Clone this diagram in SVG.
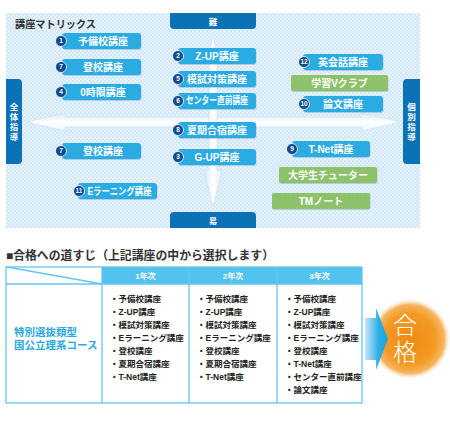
<svg xmlns="http://www.w3.org/2000/svg" width="450" height="421" viewBox="0 0 450 421">
<defs>
<pattern id="chk" width="4" height="4" patternUnits="userSpaceOnUse">
<rect width="4" height="4" fill="#e5f2fb"/>
<rect width="2" height="2" fill="#d4e9f7"/>
<rect x="2" y="2" width="2" height="2" fill="#d4e9f7"/>
</pattern>
<linearGradient id="harr" x1="0" y1="0" x2="0" y2="1">
<stop offset="0" stop-color="#d6eaf7"/>
<stop offset="0.5" stop-color="#ffffff"/>
<stop offset="1" stop-color="#eef6fc"/>
</linearGradient>
<linearGradient id="varr" x1="0" y1="0" x2="1" y2="0">
<stop offset="0" stop-color="#d6eaf7"/>
<stop offset="0.5" stop-color="#ffffff"/>
<stop offset="1" stop-color="#e3f0fa"/>
</linearGradient>
<linearGradient id="barr" x1="0" y1="0" x2="1" y2="0">
<stop offset="0" stop-color="#c4e7f8"/>
<stop offset="0.6" stop-color="#2aaee4"/>
<stop offset="1" stop-color="#1aa3df"/>
</linearGradient>
<radialGradient id="org" cx="0.5" cy="0.5" r="0.5">
<stop offset="0" stop-color="#f08a10"/>
<stop offset="0.62" stop-color="#f39a25"/>
<stop offset="0.84" stop-color="#f6b560"/>
<stop offset="1" stop-color="#ffffff" stop-opacity="0"/>
</radialGradient>
<filter id="sh" x="-10%" y="-20%" width="120%" height="150%">
<feDropShadow dx="0.5" dy="1" stdDeviation="0.6" flood-color="#5a8fb5" flood-opacity="0.35"/>
</filter>
</defs>
<style>
text{font-family:"Liberation Sans","Noto Sans CJK JP",sans-serif}
.pill{fill:#29abe2;filter:url(#sh)}
.grn{fill:#8dc26b;filter:url(#sh)}
.num{fill:#0e4b8f;stroke:#ffffff;stroke-width:0.8}
.nt{fill:#fff;font-size:6.5px;font-weight:bold;text-anchor:middle}
.pt{fill:#fff;font-size:10px;font-weight:bold;text-anchor:middle}
.tab{fill:#0b72b5}
.tt{fill:#fff;font-size:8.5px;font-weight:bold;text-anchor:middle}
.li{fill:#222;font-size:8.5px;font-weight:bold}
.hd{fill:#fff;font-size:8px;font-weight:bold;text-anchor:middle}
.tl{fill:none;stroke:#63c6ee;stroke-width:1.3}
</style>

<rect x="6" y="13" width="414" height="215" fill="url(#chk)"/>
<text x="15" y="28" font-size="10.5" font-weight="bold" fill="#333" textLength="81" lengthAdjust="spacingAndGlyphs">講座マトリックス</text>

<g id="tab-top"><path class="tab" d="M170,13 H256 V25 Q256,29 252,29 H174 Q170,29 170,25 Z"/><text class="tt" x="213" y="24.5">難</text></g>
<g id="tab-bottom"><path class="tab" d="M170,228 V216 Q170,212 174,212 H252 Q256,212 256,216 V228 Z"/><text class="tt" x="213" y="223.5">易</text></g>
<g id="tab-left"><path class="tab" d="M6,79 H18 Q22,79 22,83 V160 Q22,164 18,164 H6 Z"/>
<text class="tt" x="14" y="110">全</text><text class="tt" x="14" y="120">体</text><text class="tt" x="14" y="130">指</text><text class="tt" x="14" y="140">導</text></g>
<g id="tab-right"><path class="tab" d="M420,79 H407 Q403,79 403,83 V160 Q403,164 407,164 H420 Z"/>
<text class="tt" x="411.5" y="110">個</text><text class="tt" x="411.5" y="120">別</text><text class="tt" x="411.5" y="130">指</text><text class="tt" x="411.5" y="140">導</text></g>

<g id="connectors">
<path d="M27,122 L65,113 L65,117 L362,117 L362,113 L400,122 L362,131 L362,127 L65,127 L65,131 Z" fill="url(#harr)" stroke="#c3def0" stroke-width="0.5"/>
<path d="M213,35 L217,55 L217,170 L222,170 L213,207 L204,170 L209,170 L209,55 Z" fill="url(#varr)" stroke="#c3def0" stroke-width="0.5"/>
</g>

<g id="n1"><rect class="pill" x="62" y="33" width="79" height="16" rx="3"/><circle class="num" cx="61" cy="41" r="5.5"/><text class="nt" x="61" y="43.3">1</text><text class="pt" x="103" y="44.6">予備校講座</text></g>
<g id="n7a"><rect class="pill" x="62" y="59" width="79" height="16" rx="3"/><circle class="num" cx="61" cy="67" r="5.5"/><text class="nt" x="61" y="69.3">7</text><text class="pt" x="103" y="70.6">登校講座</text></g>
<g id="n4"><rect class="pill" x="62" y="84" width="79" height="16" rx="3"/><circle class="num" cx="61" cy="92" r="5.5"/><text class="nt" x="61" y="94.3">4</text><text class="pt" x="103" y="95.6">0時限講座</text></g>
<g id="n7b"><rect class="pill" x="62" y="143" width="79" height="16" rx="3"/><circle class="num" cx="61" cy="151" r="5.5"/><text class="nt" x="61" y="153.3">7</text><text class="pt" x="103" y="154.6">登校講座</text></g>
<g id="n11"><rect class="pill" x="78" y="183" width="79" height="16" rx="3"/><circle class="num" cx="79" cy="191" r="5.5"/><text class="nt" x="79" y="193.3">11</text><text class="pt" x="119.5" y="194.6" textLength="64" lengthAdjust="spacingAndGlyphs">Eラーニング講座</text></g>

<g id="n2"><rect class="pill" x="178" y="48" width="78" height="16" rx="3"/><circle class="num" cx="178" cy="56" r="5.5"/><text class="nt" x="178" y="58.3">2</text><text class="pt" x="217" y="59.6">Z-UP講座</text></g>
<g id="n5"><rect class="pill" x="178" y="71" width="78" height="16" rx="3"/><circle class="num" cx="178" cy="79" r="5.5"/><text class="nt" x="178" y="81.3">5</text><text class="pt" x="217" y="82.6">模試対策講座</text></g>
<g id="n6"><rect class="pill" x="178" y="93" width="78" height="16" rx="3"/><circle class="num" cx="178" cy="101" r="5.5"/><text class="nt" x="178" y="103.3">6</text><text class="pt" x="217" y="104.3" font-size="8" textLength="62" lengthAdjust="spacingAndGlyphs">センター直前講座</text></g>
<g id="n8"><rect class="pill" x="178" y="122" width="78" height="16" rx="3"/><circle class="num" cx="178" cy="130" r="5.5"/><text class="nt" x="178" y="132.3">8</text><text class="pt" x="217" y="133.6">夏期合宿講座</text></g>
<g id="n3"><rect class="pill" x="178" y="149" width="78" height="16" rx="3"/><circle class="num" cx="178" cy="157" r="5.5"/><text class="nt" x="178" y="159.3">3</text><text class="pt" x="217" y="160.6">G-UP講座</text></g>

<g id="n12"><rect class="pill" x="303" y="54" width="80" height="16" rx="3"/><circle class="num" cx="304" cy="62" r="5.5"/><text class="nt" x="304" y="64.3">12</text><text class="pt" x="343" y="65.6">英会話講座</text></g>
<g id="gV"><rect class="grn" x="291" y="75" width="97" height="16" rx="2"/><text class="pt" x="339.5" y="86.6">学習Vクラブ</text></g>
<g id="n10"><rect class="pill" x="303" y="96" width="80" height="16" rx="3"/><circle class="num" cx="304" cy="104" r="5.5"/><text class="nt" x="304" y="106.3">10</text><text class="pt" x="343" y="107.6">論文講座</text></g>
<g id="n9"><rect class="pill" x="292" y="141" width="78" height="16" rx="3"/><circle class="num" cx="292" cy="149" r="5.5"/><text class="nt" x="292" y="151.3">9</text><text class="pt" x="331" y="152.6">T-Net講座</text></g>
<g id="gT"><rect class="grn" x="279" y="167" width="98" height="16" rx="2"/><text class="pt" x="328" y="178.6">大学生チューター</text></g>
<g id="gTM"><rect class="grn" x="272" y="193" width="98" height="16" rx="2"/><text class="pt" x="321" y="204.6">TMノート</text></g>

<text x="6" y="260" font-size="12" font-weight="bold" fill="#333" textLength="268" lengthAdjust="spacingAndGlyphs">■合格への道すじ（上記講座の中から選択します）</text>

<g id="table">
<rect x="102" y="267" width="260" height="17" fill="#52c2ee"/>
<rect class="tl" x="6" y="267" width="356" height="136"/>
<line class="tl" x1="6" y1="284" x2="362" y2="284"/>
<line class="tl" x1="102" y1="267" x2="102" y2="403"/>
<line class="tl" x1="189" y1="267" x2="189" y2="403"/>
<line class="tl" x1="277" y1="267" x2="277" y2="403"/>
<line class="tl" x1="7" y1="267" x2="102" y2="284"/>
<text class="hd" x="145.5" y="278.5">1年次</text>
<text class="hd" x="233" y="278.5">2年次</text>
<text class="hd" x="319.5" y="278.5">3年次</text>
<text x="14" y="336" font-size="10.5" font-weight="bold" fill="#2aa8e0">特別選抜類型</text>
<text x="14" y="349" font-size="10.5" font-weight="bold" fill="#2aa8e0">国公立理系コース</text>
<text class="li" x="110" y="302">・予備校講座</text>
<text class="li" x="110" y="315">・Z-UP講座</text>
<text class="li" x="110" y="328">・模試対策講座</text>
<text class="li" x="110" y="341">・Eラーニング講座</text>
<text class="li" x="110" y="354">・登校講座</text>
<text class="li" x="110" y="367">・夏期合宿講座</text>
<text class="li" x="110" y="380">・T-Net講座</text>
<text class="li" x="197" y="302">・予備校講座</text>
<text class="li" x="197" y="315">・Z-UP講座</text>
<text class="li" x="197" y="328">・模試対策講座</text>
<text class="li" x="197" y="341">・Eラーニング講座</text>
<text class="li" x="197" y="354">・登校講座</text>
<text class="li" x="197" y="367">・夏期合宿講座</text>
<text class="li" x="197" y="380">・T-Net講座</text>
<text class="li" x="285" y="302">・予備校講座</text>
<text class="li" x="285" y="315">・Z-UP講座</text>
<text class="li" x="285" y="328">・模試対策講座</text>
<text class="li" x="285" y="341">・Eラーニング講座</text>
<text class="li" x="285" y="354">・登校講座</text>
<text class="li" x="285" y="367">・T-Net講座</text>
<text class="li" x="285" y="380">・センター直前講座</text>
<text class="li" x="285" y="393">・論文講座</text>
</g>

<g id="goal">
<circle cx="410" cy="339" r="41" fill="url(#org)"/>
<path d="M365,318 H376 V308 L388,339 L376,370 V360 H365 Z" fill="url(#barr)"/>
<text x="405" y="334" font-size="24" fill="#fff" text-anchor="middle" font-family="Noto Sans CJK JP, sans-serif" font-weight="300">合</text>
<text x="405" y="361" font-size="24" fill="#fff" text-anchor="middle" font-family="Noto Sans CJK JP, sans-serif" font-weight="300">格</text>
</g>
</svg>
